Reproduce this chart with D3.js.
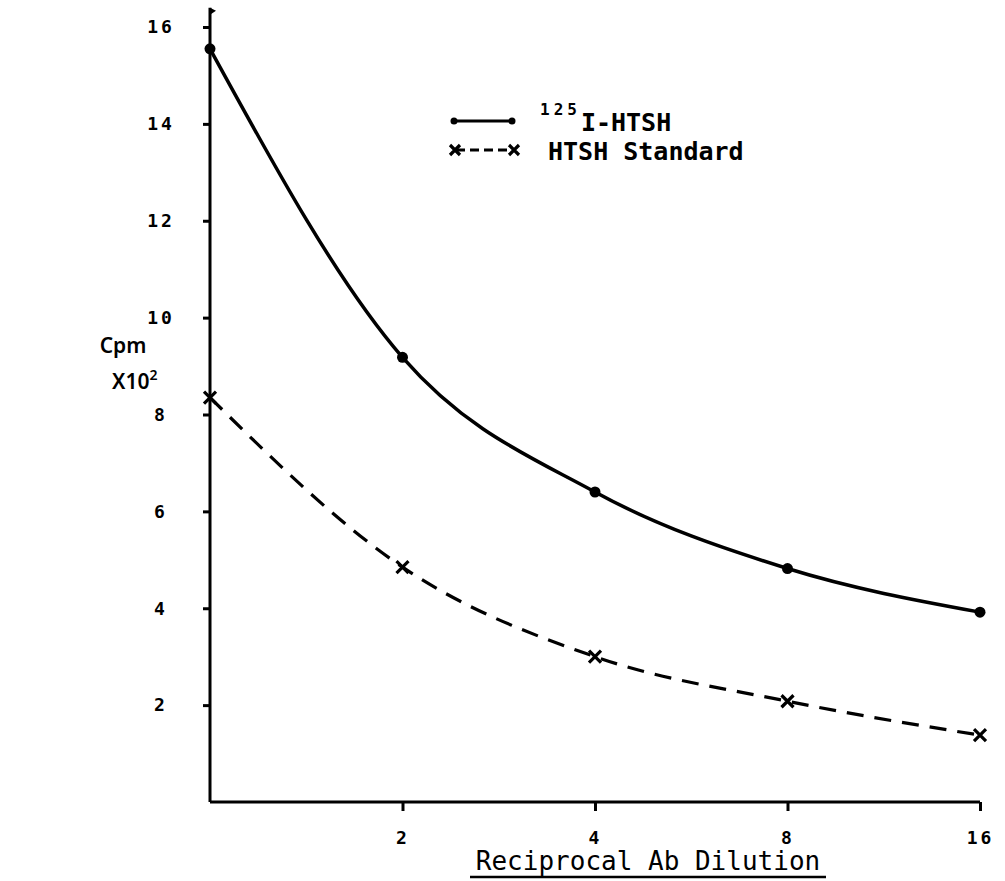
<!DOCTYPE html>
<html>
<head>
<meta charset="utf-8">
<script src="https://cdn.jsdelivr.net/npm/d3@7"></script>
<style>
  html, body { margin: 0; padding: 0; background: #fff; }
  svg { display: block; }
  text { font-family: "DejaVu Sans Mono", "Liberation Mono", monospace; fill: #000; }
</style>
</head>
<body>
<svg id="chart" width="1005" height="881"></svg>
<script>
// ---- data ----
const dilutions = [1, 2, 4, 8, 16];
const tracerValues = [15.55, 9.18, 6.4, 4.82, 3.92];      // 125I-HTSH
const standardValues = [8.35, 4.85, 3.0, 2.08, 1.38];     // HTSH Standard
const xTickValues = [2, 4, 8, 16];
const yTickValues = [2, 4, 6, 8, 10, 12, 14, 16];

const svg = d3.select("#chart");
const x = d3.scaleLog().base(2).domain([1, 16]).range([210, 980]);
const y = d3.scaleLinear().domain([0, 16]).range([802, 27]);

const ink = "#000";

// y axis
const yAxis = d3.axisLeft(y).tickValues(yTickValues).tickFormat(d3.format("d")).tickSize(7).tickPadding(38);
const gy = svg.append("g").attr("transform", `translate(${x(1)},0)`).call(yAxis);
gy.select(".domain").remove();
gy.selectAll(".tick line").attr("stroke", ink).attr("stroke-width", 3);
gy.selectAll(".tick text").style("font-size", "18px").style("font-weight", "bold")
  .style("letter-spacing", "3px")
  .attr("text-anchor", "middle").attr("x", -49);
// axis line, extended above the top tick with a small flag
svg.append("line").attr("x1", x(1)).attr("x2", x(1)).attr("y1", y(16.4)).attr("y2", y(0))
  .attr("stroke", ink).attr("stroke-width", 3);
svg.append("path")
  .attr("d", `M${x(1)},${y(16.4)} L${x(1) + 6},${y(16.4) + 3} L${x(1)},${y(16.4) + 7} Z`)
  .attr("fill", ink);

// x axis
const xAxis = d3.axisBottom(x).tickValues(xTickValues).tickFormat(d3.format("d")).tickSize(9).tickPadding(20);
const gx = svg.append("g").attr("transform", `translate(0,${y(0)})`).call(xAxis);
gx.select(".domain").remove();
gx.selectAll(".tick line").attr("stroke", ink).attr("stroke-width", 3);
gx.selectAll(".tick text").style("font-size", "18px").style("font-weight", "bold")
  .style("letter-spacing", "3px");
svg.append("line").attr("x1", x(1)).attr("x2", x(16)).attr("y1", y(0)).attr("y2", y(0))
  .attr("stroke", ink).attr("stroke-width", 3);

// axis titles
svg.append("text").attr("x", 123).attr("y", 353).attr("text-anchor", "middle")
  .style("font-family", "'Noto Sans', sans-serif")
  .style("font-size", "21px").style("font-weight", "600").text("Cpm");
const yl = svg.append("text").attr("x", 112).attr("y", 389)
  .style("font-family", "'Noto Sans', sans-serif")
  .style("font-size", "21px").style("font-weight", "600");
yl.append("tspan").text("X10");
yl.append("tspan").attr("dy", -9).style("font-size", "14px").text("2");

svg.append("text").attr("x", 648).attr("y", 870).attr("text-anchor", "middle")
  .style("font-size", "26px").text("Reciprocal Ab Dilution");
svg.append("line").attr("x1", 470).attr("x2", 826).attr("y1", 877).attr("y2", 877)
  .attr("stroke", ink).attr("stroke-width", 2.5);

// series
const line = d3.line().x((d, i) => x(dilutions[i])).y(d => y(d)).curve(d3.curveMonotoneX);

svg.append("path").datum(tracerValues).attr("d", line)
  .attr("fill", "none").attr("stroke", ink).attr("stroke-width", 3.5);
svg.append("path").datum(standardValues).attr("d", line)
  .attr("fill", "none").attr("stroke", ink).attr("stroke-width", 3.2)
  .attr("stroke-dasharray", "17,11");

svg.selectAll(".dot").data(tracerValues).enter().append("circle")
  .attr("cx", (d, i) => x(dilutions[i])).attr("cy", d => y(d)).attr("r", 5.5).attr("fill", ink);

function cross(g, cx, cy, s) {
  g.append("path").attr("d", `M${cx - s},${cy - s} L${cx + s},${cy + s} M${cx + s},${cy - s} L${cx - s},${cy + s}`)
    .attr("stroke", ink).attr("stroke-width", 3.2).attr("fill", "none");
}
standardValues.forEach((d, i) => cross(svg, x(dilutions[i]), y(d), 6));

// legend
const lg = svg.append("g");
lg.append("line").attr("x1", 454).attr("x2", 512).attr("y1", 121).attr("y2", 121)
  .attr("stroke", ink).attr("stroke-width", 3);
lg.append("circle").attr("cx", 454).attr("cy", 121).attr("r", 3.5).attr("fill", ink);
lg.append("circle").attr("cx", 512).attr("cy", 121).attr("r", 3.5).attr("fill", ink);
const t1 = lg.append("text").attr("x", 540).attr("y", 131).style("font-size", "25px").style("font-weight", "bold");
t1.append("tspan").attr("dy", -16).style("font-size", "16px").style("letter-spacing", "4px").text("125");
t1.append("tspan").attr("dy", 16).text("I-HTSH");

lg.append("line").attr("x1", 456).attr("x2", 512).attr("y1", 150).attr("y2", 150)
  .attr("stroke", ink).attr("stroke-width", 3).attr("stroke-dasharray", "9,5");
cross(lg, 455, 150, 5);
cross(lg, 514, 150, 5);
lg.append("text").attr("x", 548).attr("y", 160).style("font-size", "25px").style("font-weight", "bold").text("HTSH Standard");
</script>
</body>
</html>
